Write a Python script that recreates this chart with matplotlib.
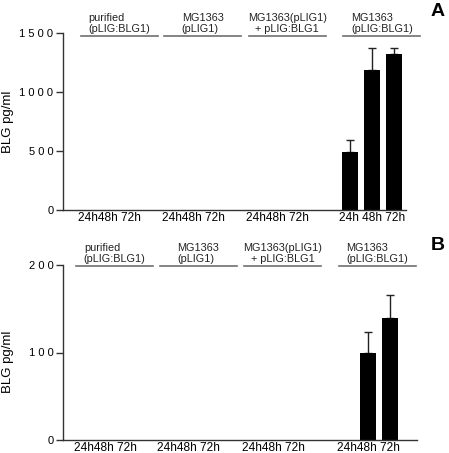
import numpy as np
import matplotlib
matplotlib.use('Agg')
import matplotlib.pyplot as plt
from matplotlib.ticker import FuncFormatter
import matplotlib.transforms as mtransforms

plt.rcParams['font.family'] = ['Liberation Sans', 'DejaVu Sans']

# data
groups = ['purified\n(pLIG:BLG1)', 'MG1363\n(pLIG1)', 'MG1363(pLIG1)\n+ pLIG:BLG1', 'MG1363\n(pLIG:BLG1)']
group_align = ['left', 'left', 'center', 'left']
times = ['24h', '48h', '72h']

vals_a = [[0, 0, 0], [0, 0, 0], [0, 0, 0], [495, 1190, 1325]]
err_a = [[0, 0, 0], [0, 0, 0], [0, 0, 0], [95, 180, 50]]
ticks_a = ['24h48h 72h', '24h48h 72h', '24h48h 72h', '24h 48h 72h']

vals_b = [[0, 0, 0], [0, 0, 0], [0, 0, 0], [0, 100, 139]]
err_b = [[0, 0, 0], [0, 0, 0], [0, 0, 0], [0, 23, 27]]
ticks_b = ['24h48h 72h', '24h48h 72h', '24h48h 72h', '24h48h 72h']

# layout (slot units)
group_start = [0.8, 4.6, 8.45, 12.75]
bar_off = 0.32
line_len = 3.5
bar_w = 0.73

fig = plt.figure(figsize=(4.49, 4.53), dpi=100)
axA = fig.add_axes([63/449, 1-210/453, 343/449, 177/453])
axB = fig.add_axes([63/449, 1-440/453, 354/449, 175/453])

def spaced(v, pos):
    return ' '.join(f"{v:g}")

def panel(ax, vals, errs, ticks, ymax, step, xlim, line_y, letter, letter_y, ytxt):
    trans = mtransforms.blended_transform_factory(ax.transData, ax.transAxes)
    for g in range(len(groups)):
        xs = [group_start[g] + bar_off + i for i in range(len(times))]
        v = vals[g]
        e = errs[g]
        ax.bar(xs, v, width=bar_w, color='black', zorder=2)
        for x, vv, ee in zip(xs, v, e):
            if vv > 0:
                ax.errorbar(x, vv, yerr=[[0], [ee]], color='#222222', lw=1.0,
                            capsize=3, capthick=1.0, zorder=1)
        ax.plot([group_start[g], group_start[g] + line_len], [line_y, line_y],
                color='#707070', lw=1.2, transform=trans, clip_on=False)
        ax.text(group_start[g] + line_len/2, line_y + 0.012, groups[g], transform=trans,
                ha='center', va='bottom', multialignment=group_align[g],
                fontsize=7.8, color='#222222', linespacing=1.1)
        ax.text(group_start[g] + bar_off + 1, -0.012, ticks[g], transform=trans,
                ha='center', va='top', fontsize=8.6, color='black')
    ax.set_xlim(*xlim)
    ax.set_ylim(0, ymax)
    ax.set_yticks(np.arange(0, ymax + 1, step))
    ax.yaxis.set_major_formatter(FuncFormatter(spaced))
    ax.set_xticks([])
    for s in ['top', 'right']:
        ax.spines[s].set_visible(False)
    for s in ['left', 'bottom']:
        ax.spines[s].set_color('#333333')
        ax.spines[s].set_linewidth(1.0)
    ax.tick_params(axis='y', length=5, width=1.0, color='#333333', labelsize=8, pad=2)
    fig.text(8/449, 1 - ytxt/453, 'BLG pg/ml', rotation=90, ha='center', va='center', fontsize=9.5)
    fig.text(438/449, 1 - letter_y/453, letter, ha='center', va='center',
             fontsize=14, fontweight='bold')

panel(axA, vals_a, err_a, ticks_a, 1500, 500, (0, 15.6), 0.985, 'A', 11, 122)
panel(axB, vals_b, err_b, ticks_b, 200, 100, (0.2, 16.3), 0.995, 'B', 246, 362)

plt.savefig('out.png', dpi=100)
